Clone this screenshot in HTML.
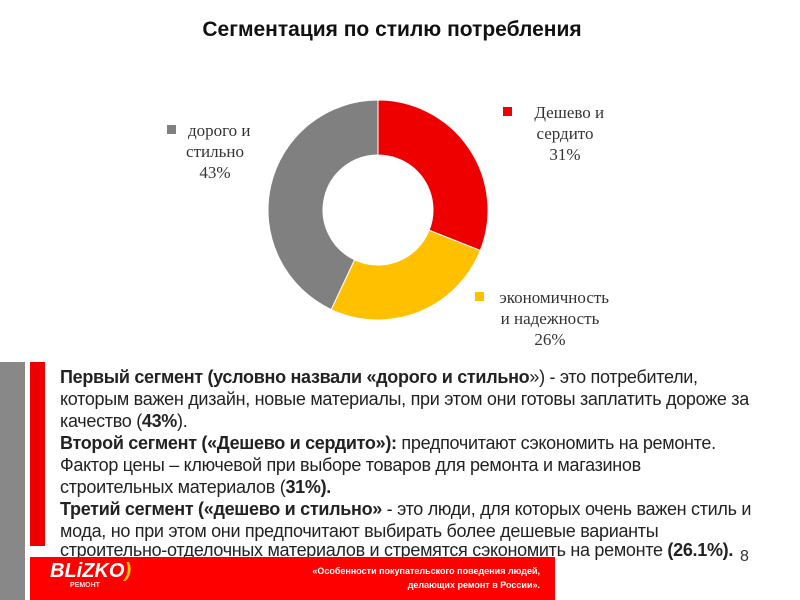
<!DOCTYPE html>
<html><head><meta charset="utf-8"><style>
body{margin:0;width:800px;height:600px;background:#fff;position:relative;overflow:hidden;font-family:"Liberation Sans",sans-serif}
.abs{position:absolute}
.t{position:absolute;left:60px;font-size:18px;color:#222;white-space:nowrap;letter-spacing:-0.3px}
.lg{font-family:"Liberation Serif",serif;font-size:17px;color:#333;text-align:center;line-height:21px;position:absolute}
</style></head><body>
<div class="abs" style="left:0;width:784px;top:18px;text-align:center;font-weight:bold;font-size:21px;color:#111">Сегментация по стилю потребления</div>
<svg class="abs" style="left:0;top:0" width="800" height="360">
<g id="donut"></g>
<rect x="503" y="107" width="9" height="9" fill="#e00"/>
<rect x="167" y="125" width="9" height="9" fill="#808080"/>
<rect x="475" y="292" width="9" height="9" fill="#ffc000"/>
</svg>
<div class="lg" style="left:505px;top:102px;width:120px">&nbsp;&nbsp;Дешево и<br>сердито<br>31%</div>
<div class="lg" style="left:165px;top:120px;width:100px">&nbsp;&nbsp;дорого и<br>стильно<br>43%</div>
<div class="lg" style="left:475px;top:287px;width:150px">&nbsp;&nbsp;экономичность<br>и надежность<br>26%</div>
<div class="abs" style="left:0;top:362px;width:25px;height:238px;background:#888"></div>
<div class="abs" style="left:30px;top:362px;width:15px;height:184px;background:#e00"></div>
<div class="t" style="top:367px"><b>Первый сегмент (условно назвали «дорого и стильно</b>») - это потребители,</div>
<div class="t" style="top:389px">которым важен дизайн, новые материалы, при этом они готовы заплатить дороже за</div>
<div class="t" style="top:411px">качество (<b>43%</b>).</div>
<div class="t" style="top:433px"><b>Второй сегмент («Дешево и сердито»):</b> предпочитают сэкономить на ремонте.</div>
<div class="t" style="top:455px">Фактор цены – ключевой при выборе товаров для ремонта и магазинов</div>
<div class="t" style="top:477px">строительных материалов (<b>31%).</b></div>
<div class="t" style="top:499px"><b>Третий сегмент («дешево и стильно»</b> - это люди, для которых очень важен стиль и</div>
<div class="t" style="top:521px">мода, но при этом они предпочитают выбирать более дешевые варианты</div>
<div class="t" style="top:540px">строительно-отделочных материалов и стремятся сэкономить на ремонте <b>(26.1%).</b></div>
<div class="abs" style="left:30px;top:557px;width:525px;height:43px;background:#f00"></div>
<div class="abs" style="left:50px;top:560px;color:#fff;font-weight:bold;font-size:20px;font-style:italic">BLiZKO<span style="color:#fc0">)</span></div>
<div class="abs" style="left:70px;top:582px;color:#fdd;font-size:7px;font-weight:bold">РЕМОНТ</div>
<div class="abs" style="left:200px;width:340px;top:564px;text-align:right;color:#fff;font-size:9px;font-weight:bold;line-height:14px">«Особенности покупательского поведения людей,<br>делающих ремонт в России».</div>
<div class="abs" style="left:740px;top:548px;font-size:16px;color:#333">8</div>
<script>
const categories=["Дешево и сердито","экономичность и надежность","дорого и стильно"];
const values=[31,26,43];
const colors=["#ee0000","#ffc000","#808080"];
const cx=378,cy=210,R=110,r=55;
const g=document.getElementById('donut');
const total=values.reduce((a,b)=>a+b,0);
let a0=0;
function pt(rad,a){return [cx+rad*Math.sin(a),cy-rad*Math.cos(a)];}
values.forEach((v,i)=>{
 const a1=a0+v/total*2*Math.PI;
 const large=(a1-a0)>Math.PI?1:0;
 const [x0,y0]=pt(R,a0),[x1,y1]=pt(R,a1),[x2,y2]=pt(r,a1),[x3,y3]=pt(r,a0);
 const p=document.createElementNS('http://www.w3.org/2000/svg','path');
 p.setAttribute('d',`M${x0},${y0}A${R},${R} 0 ${large} 1 ${x1},${y1}L${x2},${y2}A${r},${r} 0 ${large} 0 ${x3},${y3}Z`);
 p.setAttribute('fill',colors[i]);
 p.setAttribute('stroke','#fff');
 p.setAttribute('stroke-width','1');
 
 
 g.appendChild(p);
 a0=a1;
});
</script>
</body></html>
